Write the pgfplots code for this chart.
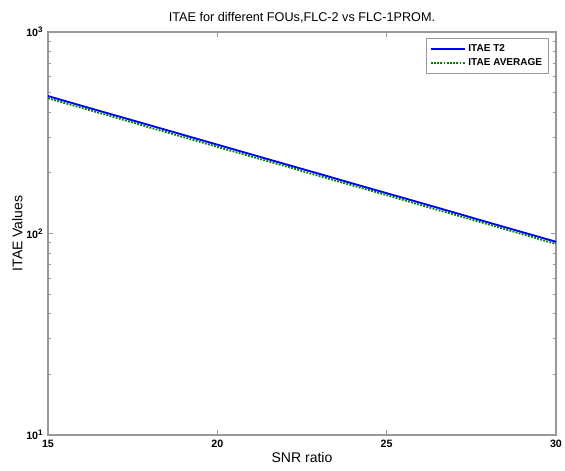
\documentclass[border=0pt]{standalone}
\usepackage{fontspec}
\setmainfont{Liberation Sans}
\usepackage{pgfplots}
\pgfplotsset{compat=1.18}
\usetikzlibrary{calc}
\definecolor{mgreen}{RGB}{0,128,0}
\begin{document}
\begin{tikzpicture}
\begin{axis}[
  scale only axis,
  width=381pt, height=302.25pt,
  ymode=log,
  xmin=15, xmax=30, ymin=10, ymax=1000,
  xtick={15,20,25,30},
  xticklabels={\textbf{15},\textbf{20},\textbf{25},\textbf{30}},
  ytick={10,100,1000},
  yticklabels={\textbf{10\textsuperscript{1}},\textbf{10\textsuperscript{2}},\textbf{10\textsuperscript{3}}},
  tick label style={font=\fontsize{8}{9}\selectfont},
  tick align=inside,
  major tick length=4pt, minor tick length=2.5pt,
  axis line style={gray!80, line width=0.8pt},
  every tick/.style={gray!80, line width=0.6pt},
  title={ITAE for different FOUs,FLC-2 vs FLC-1PROM.},
  title style={font=\fontsize{9.5}{11}\selectfont, yshift=-3pt},
  xlabel={SNR ratio}, ylabel={ITAE Values},
  label style={font=\fontsize{10.5}{12}\selectfont},
  xlabel style={yshift=3pt},
  ylabel style={yshift=-4pt},
  legend style={at={(0.985,0.985)}, anchor=north east, font=\fontsize{7.5}{9}\selectfont\bfseries, draw=gray!80, line width=0.6pt, inner sep=2.5pt, row sep=0pt},
  legend cell align=left,
  legend image code/.code={\draw[#1] (0cm,0cm) -- (0.9cm,0cm);},
]
\addplot[blue, line width=1.4pt] coordinates {
(15,481)(16,430)(17,385)(18,344.7)(19,308.5)(20,276)(21,247)(22,221)(23,198)(24,177)(25,158.5)(26,142)(27,127)(28,113.5)(29,101.6)(30,91)
};
\addlegendentry{ITAE T2}
\addplot[mgreen, line width=1.4pt, densely dotted] coordinates {
(15,469)(16,420)(17,376)(18,336)(19,301)(20,269)(21,241)(22,216)(23,193)(24,173)(25,155)(26,138.5)(27,124)(28,111)(29,99.3)(30,88.8)
};
\addlegendentry{ITAE AVERAGE}
\end{axis}
\pgfresetboundingbox
\useasboundingbox ($(current axis.south west)+(-36pt,-27pt)$) rectangle ($(current axis.north east)+(6.75pt,24pt)$);
\end{tikzpicture}
\end{document}
